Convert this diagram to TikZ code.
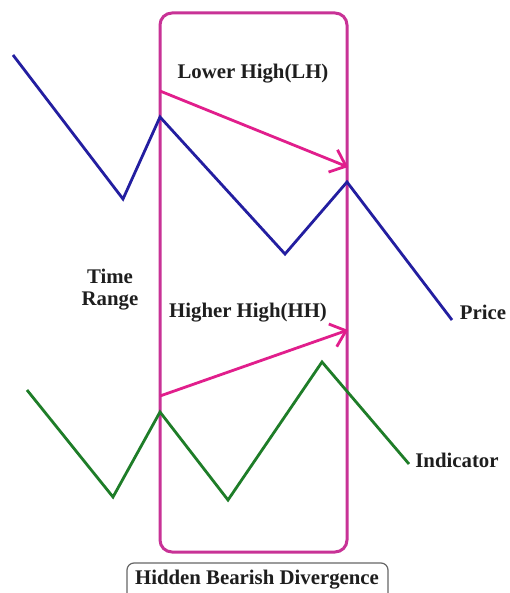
\documentclass[tikz,border=0pt]{standalone}
\usepackage{fontspec}
\setmainfont{Liberation Serif}
\usetikzlibrary{arrows.meta}
\definecolor{boxpink}{RGB}{200,50,150}
\definecolor{arrowpink}{RGB}{225,30,140}
\definecolor{priceblue}{RGB}{35,30,160}
\definecolor{indgreen}{RGB}{30,125,40}
\definecolor{txt}{RGB}{30,30,30}
\tikzset{
  lbl/.style={font=\fontsize{20.8}{23}\selectfont\bfseries, text=txt, inner sep=0pt, align=center},
  pricepath/.style={draw=priceblue, line width=2.8pt, line join=miter},
  indpath/.style={draw=indgreen, line width=2.8pt, line join=miter},
  rangebox/.style={draw=boxpink, line width=3pt, rounded corners=12pt},
  hharrow/.style={draw=arrowpink, line width=2.8pt, -{Straight Barb[length=14pt,width=24pt,line width=2.8pt]}},
  tagbox/.style={draw=gray!80!black, line width=1.2pt, rounded corners=7pt}
}
\begin{document}
\begin{tikzpicture}[x=1pt,y=-1pt]
\clip (0,0) rectangle (510,593);
\fill[white] (0,0) rectangle (510,593);
% range box
\draw[rangebox] (160,13) rectangle (347,552);
% price
\coordinate (p0) at (13,55);
\coordinate (p1) at (123,199);
\coordinate (p2) at (160,117);
\coordinate (p3) at (285,254);
\coordinate (p4) at (347,182);
\coordinate (p5) at (452,320);
\draw[pricepath] (p0) -- (p1) -- (p2) -- (p3) -- (p4) -- (p5);
% indicator
\coordinate (i0) at (27,390);
\coordinate (i1) at (113,497);
\coordinate (i2) at (160,412);
\coordinate (i3) at (228,500);
\coordinate (i4) at (322,362);
\coordinate (i5) at (409,464);
\draw[indpath] (i0) -- (i1) -- (i2) -- (i3) -- (i4) -- (i5);
% arrows
\coordinate (a0) at (160,91);
\coordinate (a1) at (348,167);
\coordinate (b0) at (160,396);
\coordinate (b1) at (348,330);
\draw[hharrow] (a0) -- (a1);
\draw[hharrow] (b0) -- (b1);
% labels
\node[lbl] (lh) at (253,74) {Lower High(LH)};
\node[lbl] (hh) at (248,313) {Higher High(HH)};
\node[lbl] (tr) at (110,290) {Time\\[-1pt]Range};
\node[lbl] (price) at (483,312) {Price};
\node[lbl] (ind) at (457,460) {Indicator};
% bottom tag
\draw[tagbox] (127,563) rectangle (388,600);
\node[lbl] (tag) at (257,580) {Hidden Bearish Divergence};
\end{tikzpicture}
\end{document}
